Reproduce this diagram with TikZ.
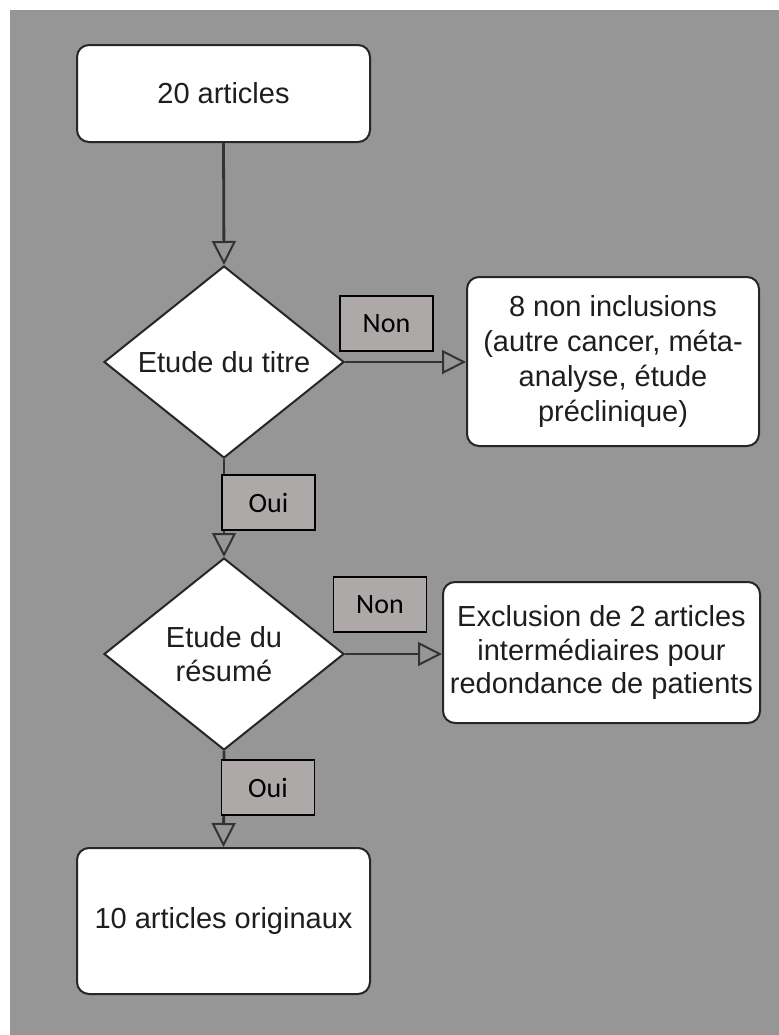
\documentclass[tikz,border=0pt]{standalone}
\usepackage{fontspec}
\setmainfont{Liberation Sans}
\newfontfamily\lblfont{Carlito}
\usetikzlibrary{shapes.geometric,arrows.meta}
\definecolor{bggray}{HTML}{969696}
\definecolor{lblgray}{HTML}{ADA9A8}
\definecolor{txt}{HTML}{1E1E1E}
\tikzset{
  x=0.5pt, y=-0.5pt,
  roundbox/.style={draw=black!85, line width=1pt, fill=white, rounded corners=6pt,
    align=center, inner sep=0pt, text=txt, font=\fontsize{14.5}{17.5}\selectfont},
  decision/.style={diamond, draw=black!85, line width=1pt, fill=white, aspect=1.25,
    minimum width=120pt, minimum height=96pt, inner sep=0pt, align=center, text=txt,
    font=\fontsize{14.5}{17}\selectfont},
  lbl/.style={draw=black, line width=0.6pt, fill=lblgray, minimum width=46.5pt,
    minimum height=27.5pt, inner sep=0pt, font=\lblfont\fontsize{14}{16}\selectfont},
  flow/.style={draw=black!80, line width=1.4pt,
    -{Triangle[open, length=12pt, width=12pt, line width=1pt]}},
}
\begin{document}
\begin{tikzpicture}
\useasboundingbox (0,0) rectangle (779,1035);
\fill[white] (0,0) rectangle (779,1035);
\fill[bggray] (10,10) rectangle (779,1035);

\node[roundbox, minimum width=146.5pt, minimum height=48.5pt] (a1) at (223.5,93.5) {20 articles};
\node[decision] (d1) at (224,362) {Etude du titre};
\node[roundbox, minimum width=146pt, minimum height=84.5pt] (b2) at (613,361.5)
  {8 non inclusions\\(autre cancer, méta-\\analyse, étude\\préclinique)};
\node[decision] (d2) at (224,654) {Etude du\\résumé};
\node[roundbox, minimum width=158.5pt, minimum height=70.5pt, font=\fontsize{14.5}{16.8}\selectfont] (b3) at (601.5,652.5)
  {Exclusion de 2 articles\\intermédiaires pour\\redondance de patients};
\node[roundbox, minimum width=146.5pt, minimum height=73pt] (b4) at (223.5,921) {10 articles originaux};

\draw[flow] (a1.south) -- (d1.north);
\draw[flow] (d1.east) -- (b2.west |- d1.east);
\draw[flow] (d1.south) -- (d2.north);
\draw[flow] (d2.east) -- (b3.west |- d2.east);
\draw[flow] (d2.south) -- (b4.north);

\node[lbl] (n1) at (386.5,323.5) {Non};
\node[lbl] (o1) at (268.5,502.5) {Oui};
\node[lbl] (n2) at (380,604.5) {Non};
\node[lbl] (o2) at (268,787.5) {Oui};
\end{tikzpicture}
\end{document}
